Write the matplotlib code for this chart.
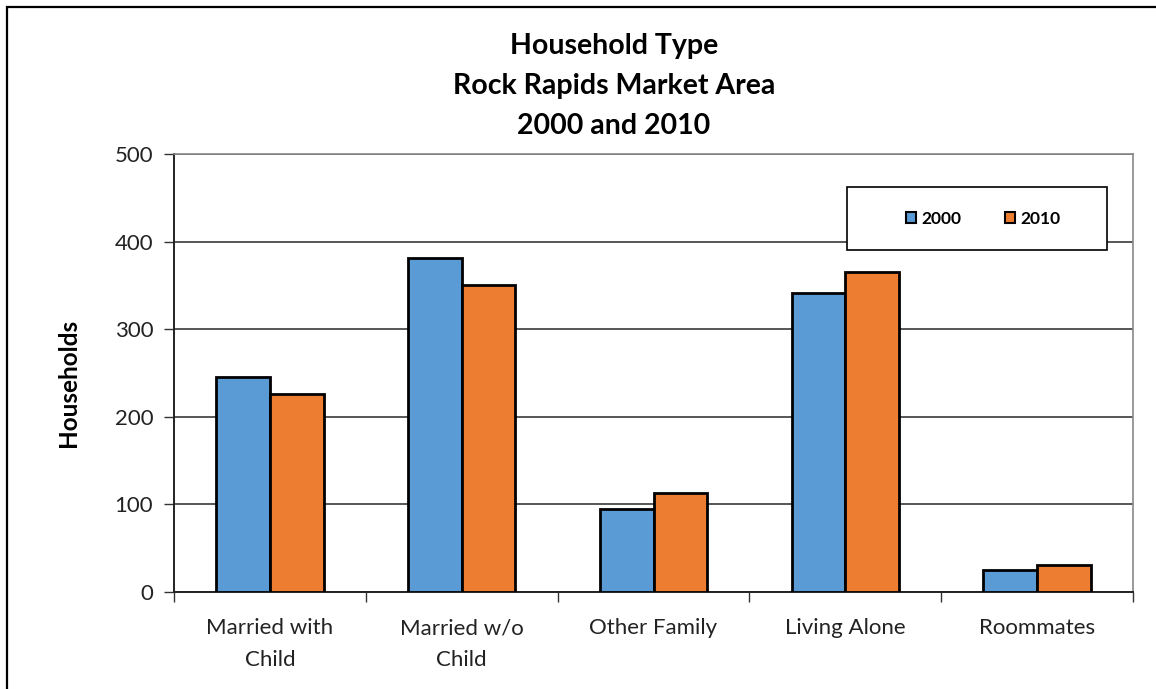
import matplotlib
matplotlib.use("Agg")
import matplotlib.pyplot as plt
from matplotlib.patches import Rectangle, Patch
import numpy as np

categories = ["Married with\nChild", "Married w/o\nChild", "Other Family", "Living Alone", "Roommates"]
series_names = ["2000", "2010"]
values_2000 = [245, 382, 94, 341, 25]
values_2010 = [226, 351, 113, 365, 30]
yticks = [0, 100, 200, 300, 400, 500]

colors = ["#5B9BD5", "#ED7D31"]

plt.rcParams['font.family'] = ['Lato', 'DejaVu Sans']

W, H = 1156, 689
fig = plt.figure(figsize=(W / 100, H / 100), dpi=100)
fig.patch.set_facecolor("white")

# outer chart border (left and top visible)
fig.patches.append(Rectangle((6.5 / W, -0.5), 2.0, 1.5 - 6.5 / H, transform=fig.transFigure,
                             fill=False, edgecolor="black", linewidth=1.6, zorder=0))

ax = fig.add_axes([174 / W, 1 - 591.7 / H, (1133 - 174) / W, (591.7 - 154.3) / H])

x = np.arange(len(categories))
bw = 0.28
ax.bar(x - bw / 2, values_2000, width=bw, color=colors[0], edgecolor="black", linewidth=2.0, zorder=3)
ax.bar(x + bw / 2, values_2010, width=bw, color=colors[1], edgecolor="black", linewidth=2.0, zorder=3)

ax.set_xlim(-0.5, len(categories) - 0.5)
ax.set_ylim(0, 500)
ax.set_yticks(yticks)
ax.set_yticklabels([str(v) for v in yticks], fontsize=16, color="#222222")
ax.yaxis.grid(True, color="#3a3a3a", linewidth=1.2, zorder=0)
ax.set_axisbelow(True)

ax.set_xticks(x)
ax.set_xticklabels(categories, fontsize=16, color="#222222", linespacing=1.75)
ax.tick_params(axis="x", length=0, pad=19)
ax.set_xticks(np.arange(-0.5, len(categories)), minor=True)
ax.tick_params(axis="x", which="minor", length=7, width=1, color="#333333", direction="out")
ax.tick_params(axis="y", length=7, width=1, color="#333333", direction="out", pad=8)

for s in ["left", "bottom"]:
    ax.spines[s].set_color("#222222")
    ax.spines[s].set_linewidth(1.4)
for s in ["top", "right"]:
    ax.spines[s].set_color("#888888")
    ax.spines[s].set_linewidth(1.2)

fig.text(68 / W, 1 - 383 / H, "Households", rotation=90, ha="center", va="center",
         fontsize=17.5, fontweight="bold")

fig.text(614 / W, 1 - 86 / H, "Household Type\nRock Rapids Market Area\n2000 and 2010",
         ha="center", va="center", fontsize=20.5, fontweight="bold", linespacing=1.68)

# legend frame
fig.patches.append(Rectangle((847 / W, 1 - 250 / H), (1107 - 847) / W, (250 - 187) / H,
                             transform=fig.transFigure, facecolor="white", edgecolor="black",
                             linewidth=1.2, zorder=4))

handles = [Patch(facecolor=colors[0], edgecolor="black", linewidth=1.5),
           Patch(facecolor=colors[1], edgecolor="black", linewidth=1.5)]
leg = fig.legend(handles, series_names, loc="center", ncol=2,
                 bbox_to_anchor=(983 / W, 1 - 219 / H), bbox_transform=fig.transFigure,
                 frameon=False, fontsize=12.5,
                 handlelength=0.6, handleheight=0.6, handletextpad=0.3, columnspacing=2.5,
                 borderpad=0, borderaxespad=0)
for t in leg.get_texts():
    t.set_fontweight("bold")
leg.set_zorder(6)

fig.savefig("out.png", dpi=100, facecolor="white")
